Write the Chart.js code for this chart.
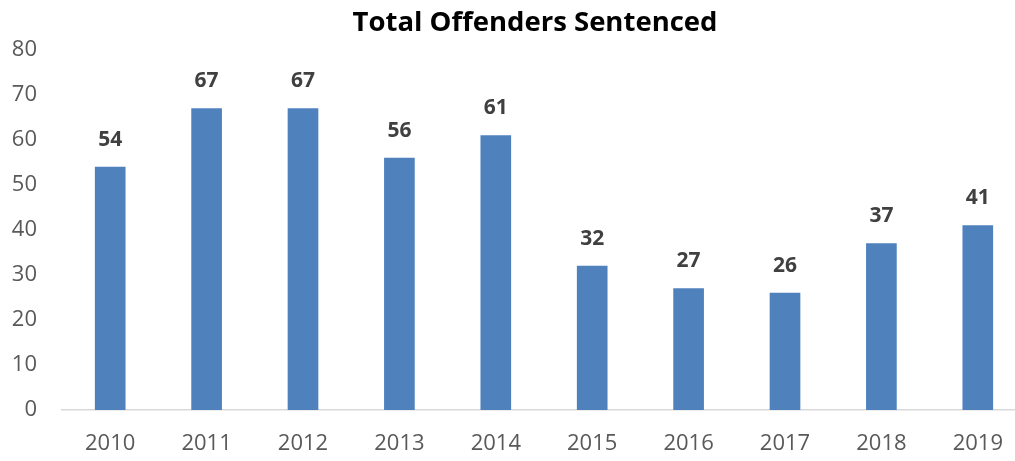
<!DOCTYPE html>
<html>
<head>
<meta charset="utf-8">
<script src="https://cdn.jsdelivr.net/npm/chart.js@4/dist/chart.umd.min.js"></script>
<style>
  html, body { margin: 0; padding: 0; background: #fff; overflow: hidden; }
  #wrap { width: 1015px; height: 461px; overflow: hidden; }
</style>
</head>
<body>
<div id="wrap"><canvas id="offendersChart" width="1070" height="461"></canvas></div>
<script>
// Total offenders sentenced per year
const years = ['2010', '2011', '2012', '2013', '2014', '2015', '2016', '2017', '2018', '2019'];
const offenders = [54, 67, 67, 56, 61, 32, 27, 26, 37, 41];
const yTicks = [0, 10, 20, 30, 40, 50, 60, 70, 80];

const FONT = "'Open Sans', 'DejaVu Sans', sans-serif";

// value labels above each bar
const barValueLabels = {
    id: 'barValueLabels',
    afterDatasetsDraw(chart) {
        const ctx = chart.ctx;
        const meta = chart.getDatasetMeta(0);
        ctx.save();
        ctx.font = 'bold 21px ' + FONT;
        ctx.fillStyle = '#404040';
        ctx.textAlign = 'center';
        ctx.textBaseline = 'middle';
        meta.data.forEach((bar, i) => {
            ctx.fillText(String(offenders[i]), bar.x, bar.y - 27);
        });
        ctx.restore();
    }
};

const ctx = document.getElementById('offendersChart').getContext('2d');
const chart = new Chart(ctx, {
    type: 'bar',
    data: {
        labels: years,
        datasets: [{
            label: 'Total Offenders Sentenced',
            data: offenders,
            backgroundColor: '#4f81bd',
            borderWidth: 0,
            barThickness: 30
        }]
    },
    options: {
        responsive: false,
        animation: false,
        layout: {
            padding: 0
        },
        plugins: {
            legend: { display: false },
            tooltip: { enabled: false },
            title: {
                display: true,
                text: 'Total Offenders Sentenced',
                color: '#000000',
                font: { family: FONT, size: 27.5, weight: 'bold', lineHeight: 1.2 },
                padding: { top: 7, bottom: 10 }
            }
        },
        scales: {
            x: {
                grid: { display: false, drawTicks: false },
                border: { display: true, color: '#d9d9d9', width: 1.5 },
                ticks: {
                    color: '#595959',
                    font: { family: FONT, size: 22 },
                    padding: 21,
                    maxRotation: 0
                },
                afterFit(scale) { scale.height = 51; }
            },
            y: {
                min: 0,
                max: 80,
                grid: { display: false, drawTicks: false },
                border: { display: false },
                afterBuildTicks(scale) {
                    scale.ticks = yTicks.map(v => ({ value: v }));
                },
                ticks: {
                    color: '#595959',
                    font: { family: FONT, size: 22 },
                    padding: 25
                },
                afterFit(scale) { scale.width = 62; }
            },
            // empty right-hand strip (off screen), keeps the title centred on the full chart
            yRight: {
                position: 'right',
                grid: { display: false, drawTicks: false },
                border: { display: false },
                ticks: { display: false },
                afterFit(scale) { scale.width = 44; }
            }
        }
    },
    plugins: [barValueLabels]
});
</script>
</body>
</html>
